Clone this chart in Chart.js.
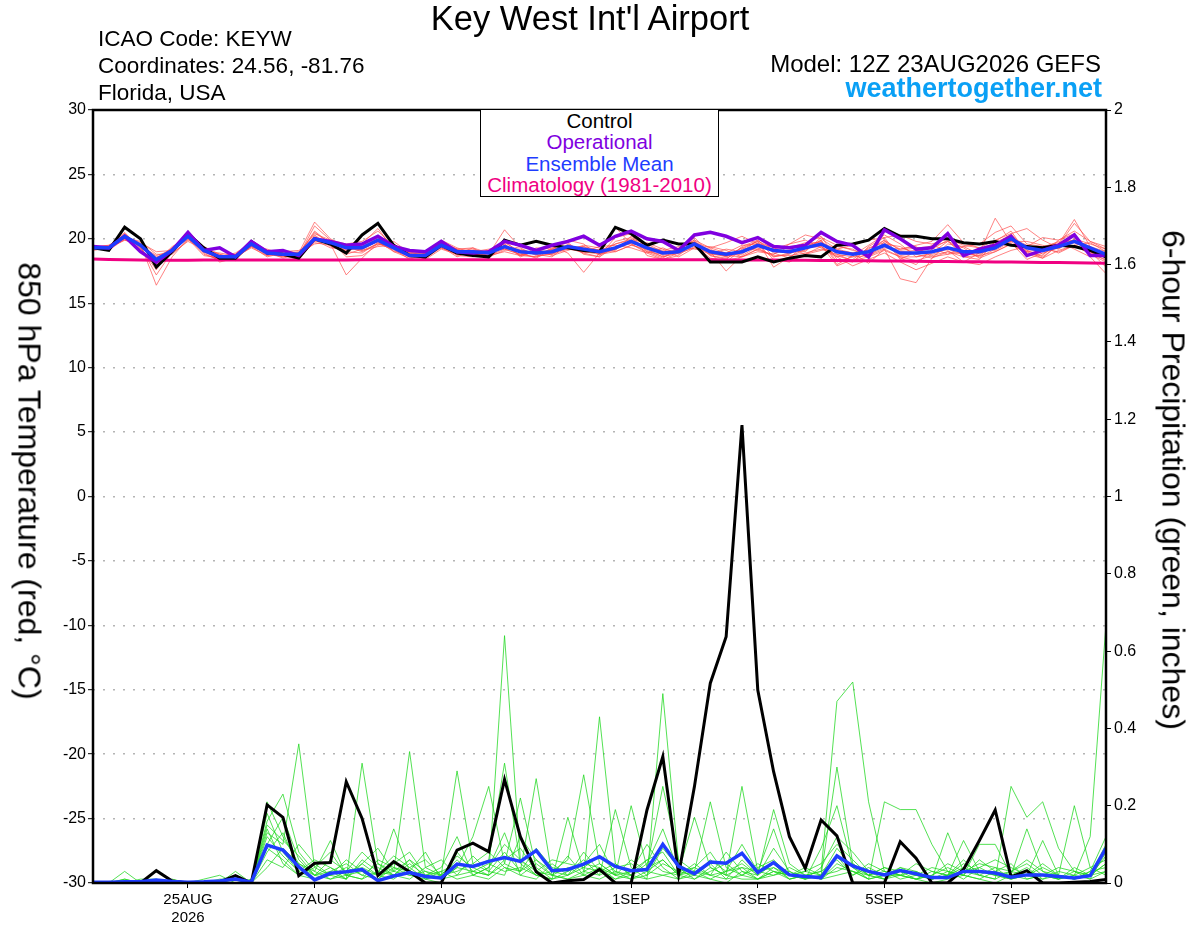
<!DOCTYPE html>
<html>
<head>
<meta charset="utf-8">
<title>Key West Int'l Airport - GEFS plume</title>
<script src="https://cdn.jsdelivr.net/npm/chart.js@4.4.1/dist/chart.umd.min.js"></script>
<style>
  body { margin: 0; background: #fff; }
  #wrap { position: relative; width: 1200px; height: 927px; font-family: "Liberation Sans", Arial, Helvetica, sans-serif; color: #000; }
  #plume { position: absolute; left: 0; top: 0; }
  .txt { position: absolute; white-space: nowrap; }
  #title { left: 0; width: 1180px; top: 0; text-align: center; font-size: 34.5px; line-height: 36px; }
  #info { left: 98px; top: 25px; font-size: 22.5px; line-height: 27px; }
  #model { right: 99px; top: 50px; font-size: 24px; line-height: 27px; }
  #site { right: 98px; top: 75px; font-size: 27px; line-height: 27px; font-weight: bold; color: #0aa0f5; }
  #legend { left: 480px; top: 109px; width: 237px; height: 86px; border: 1.5px solid #000; background: #fff;
            text-align: center; font-size: 20.5px; line-height: 21.4px; }
  .ytitle { font-size: 32px; transform: translate(-50%, -50%) rotate(90deg); }
</style>
</head>
<body>
<div id="wrap">
  <canvas id="plume" width="1200" height="927"></canvas>
  <div class="txt" id="title">Key West Int'l Airport</div>
  <div class="txt" id="info">ICAO Code: KEYW<br>Coordinates: 24.56, -81.76<br>Florida, USA</div>
  <div class="txt" id="model">Model: 12Z 23AUG2026 GEFS</div>
  <div class="txt" id="site">weathertogether.net</div>
  <div class="txt" id="legend">
    <div style="color:#000">Control</div>
    <div style="color:#8000e0">Operational</div>
    <div style="color:#1e3cff">Ensemble Mean</div>
    <div style="color:#f00082">Climatology (1981-2010)</div>
  </div>
  <div class="txt ytitle" style="left:29px; top:481px;">850 hPa Temperature (red, °C)</div>
  <div class="txt ytitle" style="left:1173px; top:480px;">6-hour Precipitation (green, inches)</div>
</div>

<script>
// forecast hour since 12Z 23AUG2026, every 6 h
var hours = [0,6,12,18,24,30,36,42,48,54,60,66,72,
  78,84,90,96,102,108,114,120,126,132,138,144,150,
  156,162,168,174,180,186,192,198,204,210,216,222,228,
  234,240,246,252,258,264,270,276,282,288,294,300,306,
  312,318,324,330,336,342,348,354,360,366,372,378,384];

// date ticks (00Z)
var tickHours = [36, 84, 132, 204, 252, 300, 348];
var tickLabels = ['25AUG', '27AUG', '29AUG', '1SEP', '3SEP', '5SEP', '7SEP'];
var tickYear = ['2026', '', '', '', '', '', ''];

// 850 hPa temperature (C)
var controlTemp = [19.3,19.1,20.9,20.0,17.8,19.0,20.4,19.3,18.5,18.5,19.8,18.9,18.8,
  18.5,20.0,19.6,18.9,20.3,21.2,19.5,18.7,18.6,19.5,18.9,18.7,18.6,
  19.9,19.5,19.8,19.5,19.3,19.1,19.0,20.9,20.4,19.5,19.9,19.6,19.6,
  18.2,18.2,18.2,18.6,18.2,18.5,18.7,18.6,19.5,19.6,19.9,20.8,20.2,
  20.2,20.0,20.0,19.7,19.6,19.8,19.5,19.4,19.3,19.5,19.4,19.1,18.6];
var operTemp = [19.4,19.3,20.2,19.0,18.2,19.1,20.5,19.1,19.3,18.6,19.8,19.0,19.1,
  18.7,20.0,19.8,19.5,19.6,20.2,19.4,19.1,19.0,19.8,19.0,18.9,19.0,
  19.8,19.5,19.1,19.5,19.8,20.2,19.5,20.2,20.6,20.0,19.8,19.1,20.3,
  20.5,20.2,19.7,20.1,19.4,19.3,19.5,20.5,19.8,19.5,18.6,20.7,20.0,
  19.2,19.3,20.4,18.7,19.2,19.5,20.2,18.7,19.1,19.5,20.3,18.7,18.7];
var meanTemp = [19.3,19.3,20.2,19.5,18.4,19.1,20.2,19.1,18.6,18.6,19.6,18.9,18.8,
  18.8,20.0,19.7,19.3,19.3,19.9,19.3,18.7,18.7,19.5,19.0,19.0,18.9,
  19.4,19.0,18.9,19.0,19.4,19.2,19.0,19.3,19.8,19.3,18.9,19.0,19.6,
  19.0,18.8,19.0,19.5,19.1,19.0,19.3,19.6,19.0,18.8,19.0,19.5,18.9,
  18.9,19.0,19.3,19.0,19.0,19.3,20.0,19.3,19.1,19.4,19.8,19.3,18.8];
var climTemp = [18.43,18.40,18.37,18.35,18.34,18.34,18.34,18.35,18.35,18.35,18.35,18.35,18.36,
  18.36,18.36,18.36,18.36,18.37,18.37,18.37,18.37,18.37,18.38,18.38,18.38,18.38,
  18.38,18.38,18.38,18.38,18.38,18.38,18.38,18.38,18.38,18.38,18.38,18.37,18.37,
  18.37,18.36,18.36,18.35,18.35,18.34,18.33,18.32,18.31,18.30,18.29,18.28,18.27,
  18.26,18.25,18.24,18.23,18.22,18.21,18.20,18.19,18.17,18.16,18.14,18.12,18.10];

// ensemble members, temperature
var memTemp1 = [19.2,19.4,20.0,19.6,16.4,18.6,20.0,19.2,18.5,18.7,19.4,18.6,18.9,
  18.6,20.3,19.4,19.0,19.5,20.2,19.0,18.5,18.9,19.8,19.2,18.7,19.1,
  19.6,18.7,18.6,19.3,19.7,18.8,18.6,19.8,20.1,19.0,18.5,19.3,19.9,
  18.7,18.4,19.4,19.9,18.6,18.8,19.6,20.2,18.4,18.2,19.4,20.1,18.5,
  18.0,19.2,19.9,18.6,18.4,19.8,20.6,18.9,18.7,19.9,20.4,18.8,18.2];
var memTemp2 = [19.4,19.2,20.4,19.3,17.6,19.3,20.5,18.9,18.3,18.5,19.9,19.1,18.6,
  18.9,21.3,20.0,19.4,19.0,19.6,19.5,18.9,18.4,19.2,18.8,19.3,18.6,
  19.1,19.4,19.2,18.7,19.1,19.5,19.3,19.0,19.5,19.7,19.2,18.6,19.3,
  19.4,19.1,18.6,19.2,19.5,19.3,18.8,19.1,19.4,19.2,18.5,19.8,19.2,
  19.4,18.6,18.8,19.4,19.6,20.5,21.0,19.6,19.4,18.9,19.5,19.7,19.0];
var memTemp3 = [19.3,19.5,20.1,19.8,18.8,18.8,19.9,19.4,18.8,18.4,19.5,18.8,19.0,
  19.1,19.8,19.9,18.6,18.7,19.5,19.8,18.9,19.0,19.9,19.3,18.9,18.7,
  19.8,18.9,18.5,19.2,19.9,19.6,18.7,20.1,20.4,18.7,18.4,18.7,19.8,
  18.3,18.2,19.2,19.8,17.8,18.6,19.2,19.9,18.0,18.7,19.5,20.3,19.6,
  18.6,18.9,19.8,19.3,18.5,19.0,19.6,19.0,18.5,19.6,21.5,19.4,18.5];
var memTemp4 = [19.1,19.3,20.3,19.4,17.2,19.0,20.3,19.0,18.6,18.9,19.7,19.0,18.5,
  18.8,20.5,19.6,17.2,18.5,19.7,19.1,18.6,18.8,19.4,18.6,19.1,19.0,
  19.2,18.8,19.0,19.4,18.9,17.4,18.9,19.6,19.9,19.4,19.1,19.4,19.2,
  19.0,17.5,18.7,19.4,19.2,19.6,19.9,19.3,18.6,18.9,18.1,19.2,16.9,
  16.6,18.5,19.0,18.8,19.2,19.7,20.3,18.7,19.3,19.8,19.2,18.6,17.3];
var memTemp5 = [19.4,19.1,20.0,19.6,18.2,19.4,20.1,18.8,18.4,18.6,19.3,18.7,18.9,
  18.7,21.0,19.9,19.6,19.8,20.6,19.4,18.8,18.5,19.6,19.2,19.2,18.8,
  20.7,19.3,18.7,18.8,19.5,18.9,19.2,20.9,19.6,19.0,18.8,19.2,19.9,
  19.3,18.9,19.5,19.6,19.4,19.2,19.0,20.1,19.5,19.1,18.8,19.3,19.2,
  19.5,19.8,21.1,19.7,19.3,19.1,19.8,19.8,19.5,19.2,20.0,19.6,19.2];
var memTemp6 = [19.2,19.4,20.5,19.2,18.0,19.2,20.6,19.3,18.7,18.3,19.8,19.1,18.7,
  18.4,20.2,19.5,19.1,19.6,20.8,19.2,18.4,18.9,19.3,18.9,18.8,19.1,
  19.6,18.6,19.1,19.0,19.2,19.4,18.8,19.2,19.9,19.1,18.6,19.0,20.1,
  18.8,19.2,19.0,19.9,18.9,18.5,19.6,19.5,17.9,18.4,19.3,19.7,18.7,
  18.9,19.5,19.1,18.2,18.9,21.6,19.7,18.4,18.9,19.3,20.3,19.0,18.6];
var memTemp7 = [19.3,19.2,20.2,19.7,19.0,19.1,20.0,18.7,18.5,18.8,19.6,18.9,19.1,
  18.9,19.6,19.8,19.5,19.1,19.4,19.5,19.0,18.6,19.6,18.7,18.6,18.9,
  19.3,19.2,18.8,18.6,19.6,19.0,19.4,19.5,19.3,18.9,19.3,18.8,19.4,
  19.2,18.6,19.3,19.1,18.8,19.4,19.5,19.8,18.8,18.3,18.9,19.6,19.4,
  18.8,18.5,19.6,19.4,18.8,19.4,20.1,19.5,18.8,19.6,19.9,18.9,18.9];
var memTemp8 = [19.4,19.3,19.9,19.5,18.6,18.9,20.4,19.2,18.2,18.5,19.4,19.2,18.8,
  19.0,19.9,19.3,19.2,19.3,20.1,19.6,18.7,18.8,19.7,19.1,18.9,18.5,
  19.5,18.7,19.3,19.2,19.4,19.3,18.9,19.1,20.2,19.5,18.7,19.1,19.5,
  18.9,18.7,18.8,19.7,19.0,18.9,19.1,19.9,18.2,18.6,19.2,19.9,18.4,
  19.0,19.3,18.8,19.0,18.6,19.2,20.4,19.1,18.6,19.5,21.2,19.8,19.4];
var memTemp9 = [19.2,19.3,20.4,19.3,17.9,19.2,20.2,19.0,18.9,18.7,19.7,18.8,18.6,
  18.8,20.6,19.6,18.8,19.2,19.8,19.0,18.9,18.8,19.3,18.9,19.1,18.7,
  19.2,18.8,18.6,18.9,19.3,18.9,18.6,19.4,19.6,18.9,18.4,18.9,19.7,
  18.7,18.5,19.1,19.3,18.6,18.9,19.3,19.4,18.7,18.3,18.6,19.1,18.6,
  18.6,18.8,19.2,18.8,18.9,19.3,19.8,19.0,19.2,19.0,19.5,19.0,18.3];
var memTemp10 = [19.3,19.2,20.1,19.4,18.4,19.0,20.3,19.3,18.6,18.6,19.5,18.7,19.0,
  18.7,20.1,19.7,19.4,19.4,19.9,19.3,18.6,18.6,19.4,19.0,19.0,19.2,
  19.4,19.1,18.9,19.1,19.5,19.1,18.9,19.2,19.8,19.2,18.9,19.0,19.6,
  19.1,18.9,18.9,19.5,19.2,19.0,19.4,19.6,19.1,18.9,19.1,19.4,19.0,
  19.1,19.0,19.3,19.1,19.1,19.2,19.9,19.4,19.1,19.3,19.7,19.2,18.8];
var memTemp11 = [19.4,19.5,20.3,19.5,18.5,19.3,20.1,19.0,18.4,18.6,19.8,19.0,18.7,
  18.9,20.4,19.9,19.0,18.9,19.7,19.3,18.6,18.7,19.7,19.2,19.3,18.9,
  19.7,19.0,18.8,19.2,19.3,19.4,19.1,19.6,20.0,19.6,19.0,19.2,19.8,
  18.9,18.6,19.3,19.8,19.3,19.3,19.7,19.7,19.2,18.9,19.0,19.9,19.1,
  19.3,19.4,19.8,18.9,18.7,19.5,20.2,19.1,19.4,19.7,19.9,19.4,19.0];
var memTemp12 = [19.2,19.3,19.9,19.6,18.1,18.9,19.8,19.2,18.8,18.5,19.4,18.9,18.9,
  18.6,19.7,19.5,19.4,19.1,19.6,19.2,18.7,18.5,19.3,18.8,18.8,18.7,
  19.0,18.7,19.0,18.8,19.2,19.0,18.8,19.0,19.5,19.2,18.6,18.9,19.3,
  18.8,18.7,18.6,19.2,18.7,18.7,18.9,19.2,18.8,18.6,18.7,19.2,18.6,
  18.3,18.7,19.0,18.6,18.7,19.0,19.6,18.8,18.5,19.1,19.5,18.8,18.4];
var memTemp13 = [19.3,19.4,20.2,19.5,18.7,19.1,20.4,19.1,18.7,18.8,19.7,18.8,18.8,
  18.9,20.0,19.6,19.3,19.4,20.0,19.4,18.8,18.9,19.6,19.0,19.0,18.8,
  19.4,19.0,18.9,19.0,19.4,19.2,19.0,19.3,19.9,19.3,18.9,19.0,19.7,
  19.3,19.7,20.2,19.6,18.4,18.2,18.8,19.4,18.6,17.9,18.4,18.9,18.2,
  17.6,18.1,18.6,18.2,18.0,18.6,19.1,19.4,20.1,19.9,20.6,19.8,19.2];
var memTemp14 = [19.3,19.2,20.3,19.4,18.3,19.2,20.2,19.0,18.5,18.6,19.6,19.0,18.8,
  18.7,20.0,19.8,19.2,19.2,19.8,19.3,18.7,18.6,19.4,18.9,19.0,19.0,
  19.3,19.1,18.9,18.9,19.3,19.2,19.1,19.2,19.7,19.3,18.9,19.1,19.5,
  18.5,18.3,18.6,19.0,18.8,19.6,20.3,20.0,19.2,19.5,19.9,20.1,20.3,
  19.8,19.6,20.0,19.5,19.3,19.9,20.4,20.8,19.9,19.3,19.9,19.0,17.8];

// 6-hour precipitation (inches)
var controlPrecip = [0,0,0,0,0.032,0.005,0,0,0.003,0.019,0,0.202,0.17,
  0.019,0.051,0.053,0.262,0.167,0.019,0.055,0.029,0,0,0.085,0.103,0.081,
  0.268,0.12,0.029,0,0.006,0.009,0.035,0,0,0.189,0.327,0.022,0.25,
  0.517,0.637,1.185,0.499,0.288,0.12,0.038,0.163,0.122,0,0,0,0.107,
  0.064,0,0,0.035,0.11,0.189,0.016,0.032,0,0,0.002,0.004,0.009];
var meanPrecip = [0.002,0.002,0.003,0.003,0.008,0.004,0.002,0.003,0.005,0.01,0.002,0.098,0.085,
  0.042,0.008,0.025,0.029,0.035,0.006,0.018,0.027,0.017,0.013,0.049,0.043,0.056,
  0.066,0.056,0.084,0.032,0.035,0.049,0.068,0.043,0.032,0.035,0.1,0.043,0.024,
  0.054,0.051,0.077,0.027,0.053,0.021,0.017,0.014,0.07,0.044,0.03,0.021,0.032,
  0.024,0.014,0.014,0.03,0.03,0.026,0.015,0.021,0.021,0.017,0.013,0.019,0.09];

// ensemble members, precipitation
var memPrecip1 = [0,0,0.03,0,0,0,0,0,0,0,0,0.21,0.12,
  0.05,0.02,0.04,0.01,0.31,0.05,0.02,0.06,0.01,0,0.08,0.03,0.02,
  0.64,0.06,0.02,0.01,0.03,0.05,0.1,0.02,0.01,0.03,0.06,0.02,0.01,
  0.04,0.02,0.01,0.01,0.03,0.01,0.02,0.03,0.47,0.52,0.21,0.03,0.02,
  0.01,0,0.01,0.02,0.01,0,0.02,0.01,0.02,0.01,0.03,0.01,0.03];
var memPrecip2 = [0,0,0,0.01,0.01,0,0,0,0,0.03,0,0.16,0.23,
  0.08,0.03,0.11,0.02,0.05,0.09,0.03,0.34,0.04,0.02,0.29,0.05,0.03,
  0.08,0.03,0.27,0.02,0.01,0.02,0.04,0.01,0.02,0.01,0.49,0.05,0.02,
  0.01,0,0.03,0.02,0.19,0.05,0.02,0.01,0.02,0.03,0.01,0.02,0.04,
  0.03,0.01,0.13,0.03,0.02,0.01,0.25,0.17,0.21,0.09,0.03,0.02,0.05];
var memPrecip3 = [0,0,0,0,0,0.01,0,0,0.01,0.01,0,0.13,0.1,
  0.36,0.04,0.02,0.06,0.03,0.02,0.14,0.03,0.08,0.01,0.04,0.12,0.25,
  0.05,0.22,0.04,0.01,0.17,0.03,0.02,0.19,0.04,0.01,0.02,0.03,0.17,
  0.04,0.02,0.25,0.03,0.14,0.02,0.01,0.02,0.3,0.05,0.02,0.01,0.03,
  0.02,0.01,0.02,0.11,0.03,0.02,0.01,0.02,0.11,0.02,0.2,0.04,0.02];
var memPrecip4 = [0,0,0.01,0,0,0,0,0,0,0,0.01,0.1,0.17,
  0.06,0.02,0.01,0.03,0.08,0.04,0.02,0.05,0.02,0.03,0.05,0.04,0.06,
  0.31,0.05,0.02,0.03,0.06,0.28,0.05,0.02,0.2,0.04,0.25,0.06,0.03,
  0.21,0.04,0.02,0.01,0.03,0.02,0.01,0.09,0.2,0.04,0.01,0.21,0.19,
  0.19,0.1,0.03,0.02,0.1,0.1,0.02,0.14,0.03,0.01,0.02,0.12,0.67];
var memPrecip5 = [0,0,0,0,0,0,0,0,0,0,0,0.18,0.08,
  0.03,0.06,0.04,0.02,0.01,0.06,0.04,0.02,0.03,0.01,0.02,0.07,0.03,
  0.02,0.12,0.06,0.02,0.04,0.02,0.43,0.05,0.02,0.06,0.03,0.02,0.05,
  0.02,0.08,0.03,0.01,0.04,0.01,0.02,0.01,0.05,0.03,0.02,0.04,0.02,
  0.01,0.02,0.05,0.03,0.05,0.04,0.01,0.02,0.04,0.02,0.01,0.03,0.12];
var memPrecip6 = [0,0,0,0,0,0,0,0.01,0.02,0,0,0.14,0.05,
  0.02,0.01,0.03,0.05,0.02,0.01,0.05,0.08,0.02,0.04,0.12,0.02,0.04,
  0.13,0.02,0.01,0.05,0.02,0.08,0.03,0.01,0.03,0.1,0.04,0.01,0.02,
  0.06,0.03,0.05,0.02,0.09,0.03,0.01,0.04,0.12,0.08,0.03,0.01,0.02,
  0.05,0.03,0.02,0.04,0.02,0.01,0.03,0.05,0.02,0.01,0.02,0.01,0.08];
var memPrecip7 = [0,0,0,0,0,0,0,0,0,0.02,0,0.08,0.13,
  0.04,0.02,0.06,0.03,0.04,0.02,0.01,0.04,0.06,0.02,0.03,0.05,0.08,
  0.04,0.03,0.09,0.04,0.03,0.06,0.02,0.04,0.05,0.02,0.09,0.04,0.01,
  0.03,0.05,0.02,0.04,0.06,0.02,0.03,0.02,0.09,0.04,0.02,0.03,0.01,
  0.02,0.04,0.03,0.01,0.04,0.06,0.04,0.02,0.01,0.03,0.02,0.04,0.06];
var memPrecip8 = [0,0,0,0,0,0,0,0,0,0,0,0.06,0.04,
  0.1,0.05,0.02,0.01,0.06,0.03,0.02,0.01,0.04,0.06,0.02,0.03,0.02,
  0.06,0.09,0.03,0.06,0.05,0.04,0.07,0.03,0.01,0.02,0.05,0.03,0.04,
  0.08,0.02,0.04,0.03,0.02,0.04,0.02,0.03,0.06,0.02,0.04,0.02,0.03,
  0.01,0.02,0.04,0.02,0.06,0.03,0.05,0.01,0.02,0.04,0.03,0.02,0.1];
var memPrecip9 = [0,0,0,0,0,0,0,0,0,0,0,0.12,0.07,
  0.03,0.01,0.02,0.04,0.02,0.05,0.03,0.02,0.01,0.02,0.06,0.02,0.01,
  0.04,0.02,0.05,0.02,0.01,0.03,0.05,0.02,0.06,0.03,0.02,0.01,0.03,
  0.02,0.01,0.06,0.02,0.05,0.01,0.02,0.01,0.04,0.03,0.01,0.02,0.02,
  0.03,0.01,0.02,0.05,0.03,0.02,0.01,0.03,0.02,0.01,0.04,0.02,0.03];
var memPrecip10 = [0,0,0.01,0,0,0,0,0,0,0.01,0,0.04,0.09,
  0.05,0.03,0.01,0.02,0.03,0.01,0.04,0.03,0.02,0.01,0.04,0.03,0.05,
  0.03,0.04,0.02,0.01,0.02,0.04,0.03,0.05,0.02,0.04,0.06,0.02,0.03,
  0.01,0.03,0.04,0.01,0.02,0.03,0.01,0.02,0.03,0.05,0.02,0.01,0.04,
  0.02,0.01,0.03,0.02,0.01,0.03,0.02,0.04,0.01,0.02,0.01,0.03,0.04];
var memPrecip11 = [0,0,0,0,0,0,0,0,0,0,0,0.09,0.06,
  0.02,0.04,0.08,0.02,0.01,0.03,0.07,0.04,0.01,0.03,0.01,0.02,0.04,
  0.1,0.06,0.03,0.02,0.07,0.02,0.01,0.03,0.02,0.05,0.14,0.03,0.02,
  0.05,0.01,0.02,0.05,0.03,0.02,0.04,0.02,0.07,0.02,0.05,0.03,0.02,
  0.01,0.03,0.02,0.06,0.02,0.04,0.03,0.02,0.05,0.02,0.01,0.02,0.05];
var memPrecip12 = [0,0,0,0,0,0,0,0,0,0,0,0.15,0.11,
  0.07,0.02,0.03,0.01,0.05,0.02,0.03,0.06,0.03,0.02,0.07,0.04,0.02,
  0.05,0.03,0.06,0.03,0.02,0.05,0.04,0.02,0.03,0.06,0.08,0.02,0.04,
  0.02,0.03,0.1,0.03,0.04,0.02,0.03,0.05,0.1,0.06,0.02,0.04,0.03,
  0.02,0.01,0.02,0.03,0.04,0.02,0.03,0.06,0.03,0.02,0.01,0.02,0.07];

var tempMembers = [memTemp1, memTemp2, memTemp3, memTemp4, memTemp5, memTemp6, memTemp7,
  memTemp8, memTemp9, memTemp10, memTemp11, memTemp12, memTemp13, memTemp14];
var precipMembers = [memPrecip1, memPrecip2, memPrecip3, memPrecip4, memPrecip5, memPrecip6,
  memPrecip7, memPrecip8, memPrecip9, memPrecip10, memPrecip11, memPrecip12];

function pts(arr) {
  return arr.map(function (v, i) { return { x: hours[i], y: v }; });
}

function line(data, color, width, axis, order) {
  return {
    data: pts(data),
    borderColor: color,
    borderWidth: width,
    yAxisID: axis,
    order: order,
    pointRadius: 0,
    tension: 0,
    fill: false
  };
}

var datasets = [
  line(meanTemp, '#1e3cff', 3.5, 'y', 0),
  line(operTemp, '#8000e0', 3.5, 'y', 1),
  line(controlTemp, '#000000', 3, 'y', 2),
  line(climTemp, '#f00082', 3, 'y', 3),
  line(meanPrecip, '#1e3cff', 3.5, 'y2', 0),
  line(controlPrecip, '#000000', 3, 'y2', 2)
];
tempMembers.forEach(function (m) { datasets.push(line(m, 'rgba(255,70,70,0.75)', 0.9, 'y', 10)); });
precipMembers.forEach(function (m) { datasets.push(line(m, 'rgba(30,215,30,0.85)', 0.9, 'y2', 10)); });

// black box round the plot area
var frame = {
  id: 'frame',
  afterDraw: function (chart) {
    var a = chart.chartArea, ctx = chart.ctx;
    ctx.save();
    ctx.lineWidth = 2.5;
    ctx.strokeStyle = '#000';
    ctx.strokeRect(a.left, a.top, a.right - a.left, a.bottom - a.top);
    ctx.restore();
  }
};

var tickFont = { family: "'Liberation Sans', Arial, sans-serif", size: 16 };

new Chart(document.getElementById('plume').getContext('2d'), {
  type: 'line',
  data: { datasets: datasets },
  plugins: [frame],
  options: {
    responsive: false,
    animation: false,
    layout: { padding: { top: 110, left: 0, right: 0, bottom: 0 } },
    plugins: { legend: { display: false }, title: { display: false }, tooltip: { enabled: false } },
    scales: {
      x: {
        type: 'linear',
        min: 0,
        max: 384,
        afterFit: function (s) { s.height = 44; },
        afterBuildTicks: function (s) { s.ticks = tickHours.map(function (h) { return { value: h }; }); },
        grid: { display: true, drawOnChartArea: false, drawTicks: true, tickLength: 5, tickColor: '#000' },
        border: { display: false },
        ticks: {
          autoSkip: false, maxRotation: 0, padding: 3, color: '#000',
          font: { family: tickFont.family, size: 15 },
          callback: function (v) {
            var k = tickHours.indexOf(v);
            if (k < 0) return '';
            return tickYear[k] ? [tickLabels[k], tickYear[k]] : tickLabels[k];
          }
        }
      },
      y: {
        position: 'left',
        min: -30,
        max: 30,
        afterFit: function (s) { s.width = 93; },
        grid: { color: '#b4b4b4', lineWidth: 1.4, tickLength: 5, tickColor: '#000', tickWidth: 1 },
        border: { display: false, dash: [2, 8] },
        ticks: { stepSize: 5, padding: 2, color: '#000', font: tickFont }
      },
      y2: {
        position: 'right',
        min: 0,
        max: 2,
        afterFit: function (s) { s.width = 94; },
        grid: { drawOnChartArea: false, tickLength: 5, tickColor: '#000', tickWidth: 1 },
        border: { display: false },
        ticks: {
          stepSize: 0.2, padding: 3, color: '#000', font: tickFont,
          callback: function (v) { return String(Number(v.toFixed(1))); }
        }
      }
    }
  }
});
</script>
</body>
</html>
